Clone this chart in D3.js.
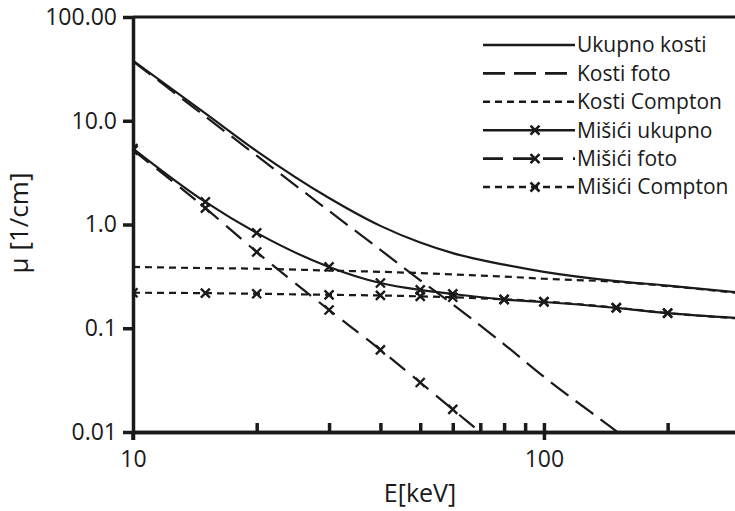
<!DOCTYPE html>
<html>
<head>
<meta charset="utf-8">
<script src="https://cdn.jsdelivr.net/npm/d3@7"></script>
<style>
    body { margin: 0; background: #fff; }
    text { font-family: "Open Sans", sans-serif; fill: #1a1a1a; }
</style>
</head>
<body>
<div id="chart"></div>
<script>
(function()
{
    "use strict";

    // #########################################################################
    // energies [keV] at which each curve was read off
    var energies = [10, 15, 20, 30, 40, 50, 60, 80, 100, 150, 200, 300];

    var ukupnoKosti    = [38, 11.8, 5.1, 1.8, 0.97, 0.67, 0.53, 0.41, 0.35, 0.285, 0.258, 0.22];
    var kostiFoto      = [37.5, 11, 4.6, 1.35, 0.57, 0.29, 0.17, 0.07, 0.034, 0.0102, 0.0043, 0.0013];
    var kostiCompton   = [0.39, 0.38, 0.375, 0.36, 0.35, 0.34, 0.33, 0.315, 0.30, 0.28, 0.255, 0.218];
    var misiciUkupno   = [5.4, 1.65, 0.83, 0.39, 0.273, 0.234, 0.214, 0.189, 0.179, 0.157, 0.14, 0.125];
    var misiciFoto     = [5.2, 1.44, 0.543, 0.15, 0.062, 0.03, 0.0165, 0.0064, 0.003, 0.0008, 0.0003, 0.00008];
    var misiciCompton  = [0.22, 0.218, 0.215, 0.21, 0.207, 0.203, 0.199, 0.19, 0.181, 0.158, 0.14, 0.124];

    var seriesNames = ["Ukupno kosti", "Kosti foto", "Kosti Compton",
                       "Mišići ukupno", "Mišići foto", "Mišići Compton"];

    var yTicks      = [0.01, 0.1, 1, 10, 100];
    var yTickLabels = ["0.01", "0.1", "1.0", "10.0", "100.00"];
    var xMajor      = [10, 100];
    var xMinor      = [20, 30, 40, 50, 60, 70, 80, 90, 100, 200];
    // #########################################################################

    var width = 735, height = 511;
    var left = 133, top = 17, bottom = 432;
    var ink = "#1a1a1a";

    var series = [
        {name: seriesNames[0], values: ukupnoKosti,   dash: null,    marks: false},
        {name: seriesNames[1], values: kostiFoto,     dash: "22,9",  marks: false},
        {name: seriesNames[2], values: kostiCompton,  dash: "7,5",   marks: false},
        {name: seriesNames[3], values: misiciUkupno,  dash: null,    marks: true},
        {name: seriesNames[4], values: misiciFoto,    dash: "20,10", marks: true},
        {name: seriesNames[5], values: misiciCompton, dash: "7,5",   marks: true}
    ];

    // #########################################################################
    var svg = d3.select("#chart")
                .append("svg")
                .attr("width", width)
                .attr("height", height);

    var xScale = d3.scaleLog()
                 .domain([10, 300])
                 .range([left, 740]);

    var yScale = d3.scaleLog()
                 .domain([0.01, 100])
                 .range([bottom, top]);
    // #########################################################################

    svg.append("clipPath")
       .attr("id", "plot")
       .append("rect")
       .attr("x", left)
       .attr("y", top)
       .attr("width", width - left)
       .attr("height", bottom - top);

    // curves
    // #########################################################################
    var line = d3.line()
                 .x((d) => xScale(d[0]))
                 .y((d) => yScale(d[1]))
                 .curve(d3.curveMonotoneX);

    var plot = svg.append("g").attr("clip-path", "url(#plot)");

    series.forEach(function(s) {
        var pts = energies.map((e, i) => [e, s.values[i]]);

        plot.append("path")
            .attr("d", line(pts))
            .attr("fill", "none")
            .attr("stroke", ink)
            .attr("stroke-width", 2.2)
            .attr("stroke-dasharray", s.dash);

        if (s.marks)
            plot.selectAll(null)
                .data(pts.filter((d) => d[0] <= 200))
                .enter()
                .append("path")
                .attr("transform", (d) => `translate(${xScale(d[0])},${yScale(d[1])})`)
                .attr("d", "M-4.5,-4.5L4.5,4.5M-4.5,4.5L4.5,-4.5")
                .attr("stroke", ink)
                .attr("stroke-width", 2.4);
    });
    // #########################################################################

    // axes
    // #########################################################################
    svg.append("g")
       .attr("transform", `translate(${left},0)`)
       .call(d3.axisLeft(yScale)
               .tickValues(yTicks)
               .tickFormat((d, i) => yTickLabels[i])
               .tickSize(10)
               .tickSizeOuter(0)
               .tickPadding(6));

    svg.append("g")
       .attr("transform", `translate(0,${bottom})`)
       .call(d3.axisBottom(xScale)
               .tickValues(xMinor)
               .tickFormat("")
               .tickSize(-9)
               .tickSizeOuter(0));

    svg.append("g")
       .attr("transform", `translate(0,${bottom})`)
       .call(d3.axisBottom(xScale)
               .tickValues(xMajor)
               .tickFormat(d3.format("d"))
               .tickSize(8)
               .tickSizeOuter(0)
               .tickPadding(11));

    svg.selectAll(".domain, .tick line")
       .attr("stroke", ink)
       .attr("stroke-width", 3.5);

    svg.selectAll(".tick text")
       .attr("fill", ink)
       .style("font-size", "23px")
       .style("font-family", "'Open Sans', sans-serif");

    // left axis runs a little below the bottom axis, and the frame top
    svg.append("line")
       .attr("x1", left).attr("x2", left)
       .attr("y1", bottom).attr("y2", bottom + 8)
       .attr("stroke", ink).attr("stroke-width", 3.5);

    svg.append("line")
       .attr("x1", left).attr("x2", width)
       .attr("y1", yScale(100)).attr("y2", yScale(100))
       .attr("stroke", ink).attr("stroke-width", 3);
    // #########################################################################

    svg.append("text")
       .attr("x", 420)
       .attr("y", 502)
       .attr("text-anchor", "middle")
       .style("font-size", "25px")
       .text("E[keV]");

    svg.append("text")
       .attr("transform", "translate(28,223) rotate(-90)")
       .attr("text-anchor", "middle")
       .style("font-size", "26px")
       .text("μ [1/cm]");

    // legend
    // #########################################################################
    var legend = svg.selectAll("g.legend")
                    .data(series)
                    .enter()
                    .append("g")
                    .attr("class", "legend")
                    .attr("transform", (d, i) => `translate(483,${45 + i * 28.4})`);

    legend.append("line")
          .attr("x1", 0).attr("x2", 92)
          .attr("stroke", ink)
          .attr("stroke-width", 2.6)
          .attr("stroke-dasharray", (d) => d.dash);

    legend.filter((d) => d.marks)
          .append("path")
          .attr("transform", "translate(52,0)")
          .attr("d", "M-4.5,-4.5L4.5,4.5M-4.5,4.5L4.5,-4.5")
          .attr("stroke", ink)
          .attr("stroke-width", 2.6);

    legend.append("text")
          .attr("x", 94)
          .attr("dy", "0.35em")
          .style("font-size", "21px")
          .text((d) => d.name);
    // #########################################################################
}
)();
</script>
</body>
</html>
